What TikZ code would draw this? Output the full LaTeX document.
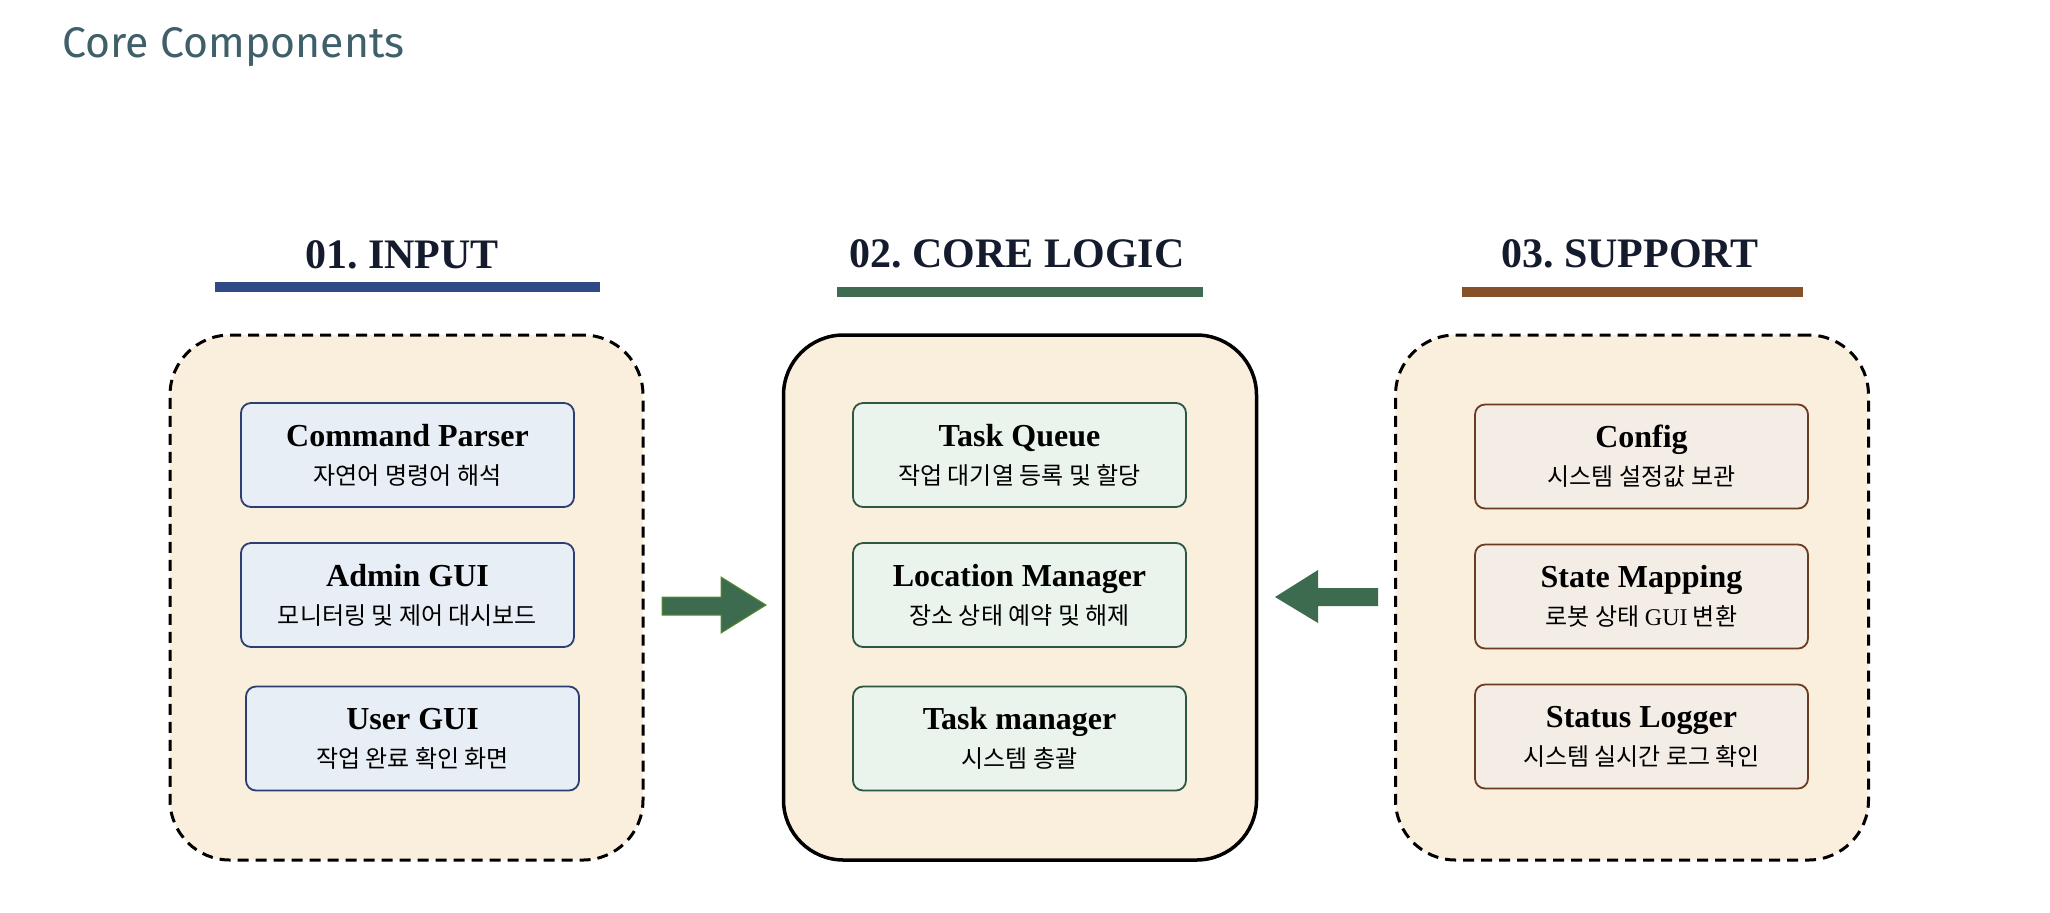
\documentclass[tikz,border=0pt]{standalone}
\usepackage{fontspec}
\setmainfont{Liberation Serif}
\newfontfamily\titlefont{Fira Sans}
\newfontfamily\kr{Noto Sans CJK KR}
\usetikzlibrary{positioning}
\frenchspacing
\definecolor{cream}{HTML}{FAEEDD}
\definecolor{titleink}{HTML}{3F5F69}
\definecolor{headink}{HTML}{141B2D}
\definecolor{inblue}{HTML}{2F4A85}
\definecolor{inbluefill}{HTML}{E8EEF5}
\definecolor{inblueline}{HTML}{2B3F73}
\definecolor{logicgreen}{HTML}{3E6B52}
\definecolor{logicfill}{HTML}{EAF3EC}
\definecolor{logicline}{HTML}{2F5640}
\definecolor{suppbrown}{HTML}{86502A}
\definecolor{suppfill}{HTML}{F3EDE6}
\definecolor{suppline}{HTML}{6B3A1F}
\definecolor{arrowgreen}{HTML}{3D6B4F}
\definecolor{arrowedge}{HTML}{5A8A2A}
\tikzset{
  group/.style={rounded corners=30pt, fill=cream, minimum width=236.5pt,
    minimum height=262.5pt, inner sep=0pt},
  comp/.style={draw, rounded corners=5pt, line width=0.9pt, minimum width=166.5pt,
    minimum height=52pt, inner sep=0pt, align=center,
    font=\fontsize{16}{19}\selectfont},
  heading/.style={anchor=base, text=headink,
    font=\fontsize{21}{25}\selectfont\bfseries},
  flow/.style={fill=arrowgreen, line join=miter},
}
\newcommand{\desc}[1]{{\kr\fontsize{12}{19}\selectfont #1}}
\begin{document}
\begin{tikzpicture}[x=0.5pt, y=-0.5pt]
\useasboundingbox (0,0) rectangle (2050,912);
%
\node[anchor=base west, inner sep=0pt, text=titleink,
      font=\titlefont\fontsize{21.4}{26}\selectfont] (title) at (62,57) {Core Components};
%
% column headings
\node[heading] (h1) at (402,268) {01. INPUT};
\node[heading] (h2) at (1017,267) {02. CORE LOGIC};
\node[heading] (h3) at (1630,267) {03. SUPPORT};
\fill[inblue] (215,282) rectangle (600,292);
\fill[logicgreen] (837,287) rectangle (1203,297);
\fill[suppbrown] (1462,287) rectangle (1803,297);
%
% groups
\node[group, draw, dashed, dash pattern=on 5.5pt off 3.5pt, line width=1.5pt]
  (input) at (406.5,597.5) {};
\node[group, draw, line width=1.75pt] (logic) at (1020,597.5) {};
\node[group, draw, dashed, dash pattern=on 5.5pt off 3.5pt, line width=1.5pt]
  (support) at (1632,597.5) {};
%
% 01. INPUT
\node[comp, draw=inblueline, fill=inbluefill] (parser) at (407.5,455)
  {\textbf{Command Parser}\\\desc{자연어 명령어 해석}};
\node[comp, draw=inblueline, fill=inbluefill] (admin) at (407.5,595)
  {\textbf{Admin GUI}\\\desc{모니터링 및 제어 대시보드}};
\node[comp, draw=inblueline, fill=inbluefill] (user) at (412.5,738.5)
  {\textbf{User GUI}\\\desc{작업 완료 확인 화면}};
%
% 02. CORE LOGIC
\node[comp, draw=logicline, fill=logicfill] (queue) at (1019.5,455)
  {\textbf{Task Queue}\\\desc{작업 대기열 등록 및 할당}};
\node[comp, draw=logicline, fill=logicfill] (location) at (1019.5,595)
  {\textbf{Location Manager}\\\desc{장소 상태 예약 및 해제}};
\node[comp, draw=logicline, fill=logicfill] (taskmgr) at (1019.5,738.5)
  {\textbf{Task manager}\\\desc{시스템 총괄}};
%
% 03. SUPPORT
\node[comp, draw=suppline, fill=suppfill] (config) at (1641.5,456.5)
  {\textbf{Config}\\\desc{시스템 설정값 보관}};
\node[comp, draw=suppline, fill=suppfill] (mapping) at (1641.5,596.5)
  {\textbf{State Mapping}\\\desc{로봇 상태 }{\fontsize{12}{19}\selectfont GUI}\desc{ 변환}};
\node[comp, draw=suppline, fill=suppfill] (logger) at (1641.5,736.5)
  {\textbf{Status Logger}\\\desc{시스템 실시간 로그 확인}};
%
% flow arrows
\filldraw[flow, draw=arrowedge, line width=0.5pt]
  (662,597) -- (721,597) -- (721,577) -- (766,605) -- (721,633) -- (721,615)
  -- (662,615) -- cycle;
\fill[flow]
  (1378,588) -- (1318,588) -- (1318,570) -- (1275,597) -- (1318,623) -- (1318,606)
  -- (1378,606) -- cycle;
%
\end{tikzpicture}
\end{document}
